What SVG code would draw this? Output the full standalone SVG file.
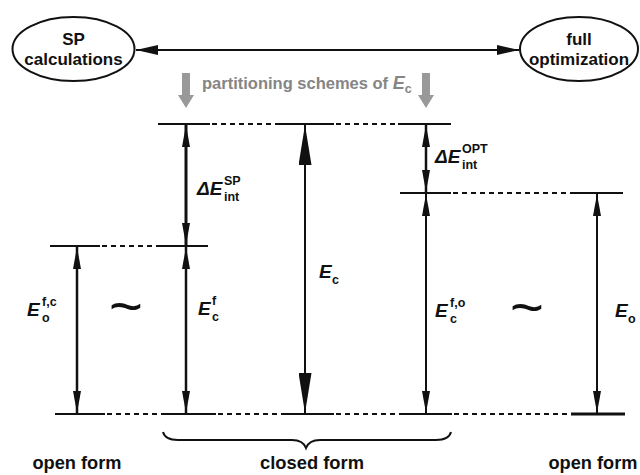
<svg xmlns="http://www.w3.org/2000/svg" width="640" height="475" viewBox="0 0 640 475">
<style>
.t{font-family:"Liberation Sans",Arial,sans-serif;font-weight:bold;fill:#111}
.lab{font-size:17px;text-anchor:middle}
.bot{font-size:18.5px;text-anchor:middle}
.E{font-size:19px;font-style:italic}
.s{font-size:12.5px}
.lv{stroke:#111;stroke-width:2;fill:none}
.dl{stroke:#111;stroke-width:2;stroke-dasharray:5 4;fill:none}
.ar{stroke:#111;stroke-width:2.5;fill:none}
.g{fill:#999}
</style>
<defs>
<marker id="ah" viewBox="0 0 22 8" refX="22" refY="4" markerWidth="22" markerHeight="8" markerUnits="userSpaceOnUse" orient="auto-start-reverse"><path d="M0,0 L22,4 L0,8 z" fill="#111"/></marker>
<marker id="ahb" viewBox="0 0 40 13" refX="40" refY="6.5" markerWidth="40" markerHeight="13" markerUnits="userSpaceOnUse" orient="auto-start-reverse"><path d="M0,0 L40,6.5 L0,13 z" fill="#111"/></marker>
<marker id="aht" viewBox="0 0 22 10" refX="22" refY="5" markerWidth="22" markerHeight="10" markerUnits="userSpaceOnUse" orient="auto-start-reverse"><path d="M0,0 L22,5 L0,10 z" fill="#111"/></marker>
</defs>
<g id="sp">
<ellipse cx="73.5" cy="49" rx="61" ry="32" fill="#fff" stroke="#111" stroke-width="2"/>
<text class="t lab" x="73.5" y="45">SP</text>
<text class="t lab" x="73.5" y="65">calculations</text>
</g>
<g id="full">
<ellipse cx="579" cy="49" rx="59" ry="32" fill="#fff" stroke="#111" stroke-width="2"/>
<text class="t lab" x="579" y="45">full</text>
<text class="t lab" x="579" y="65">optimization</text>
</g>
<g id="partition">
<polygon class="g" points="182,73 190,73 190,95 194,95 186,108 178,95 182,95"/>
<polygon class="g" points="422,73 430,73 430,95 434,95 426,108 418,95 422,95"/>
<text class="t" x="202" y="89" style="font-size:16.5px;fill:#858585">partitioning schemes of <tspan font-style="italic" font-size="18px">E</tspan><tspan font-size="12.5px" dy="4">c</tspan></text>
</g>
<g id="levels">
<line class="lv" x1="158" y1="124" x2="210" y2="124"/>
<line class="dl" x1="212" y1="124" x2="278" y2="124"/>
<line class="lv" x1="278" y1="124" x2="334" y2="124"/>
<line class="dl" x1="336" y1="124" x2="398" y2="124"/>
<line class="lv" x1="398" y1="124" x2="451" y2="124"/>
<line class="lv" x1="50" y1="246" x2="100" y2="246"/>
<line class="dl" x1="102" y1="246" x2="158" y2="246"/>
<line class="lv" x1="158" y1="246" x2="208" y2="246"/>
<line class="lv" x1="400" y1="193" x2="451" y2="193"/>
<line class="dl" x1="453" y1="193" x2="570" y2="193"/>
<line class="lv" x1="570" y1="193" x2="623" y2="193"/>
<line class="lv" x1="55" y1="414" x2="105" y2="414"/>
<line class="dl" x1="107" y1="414" x2="162" y2="414"/>
<line class="lv" x1="162" y1="414" x2="216" y2="414"/>
<line class="dl" x1="218" y1="414" x2="282" y2="414"/>
<line class="lv" x1="282" y1="414" x2="334" y2="414"/>
<line class="dl" x1="336" y1="414" x2="401" y2="414"/>
<line class="lv" x1="401" y1="414" x2="452" y2="414"/>
<line class="dl" x1="454" y1="414" x2="571" y2="414"/>
<line class="lv" x1="571" y1="414" x2="625" y2="414" style="stroke-width:3"/>
</g>
<g id="connectors">
<line class="ar" x1="136" y1="50" x2="519" y2="50" style="stroke-width:2" marker-start="url(#aht)" marker-end="url(#aht)"/>
<line class="ar" x1="77" y1="247" x2="77" y2="413" marker-start="url(#ah)" marker-end="url(#ah)"/>
<line class="ar" x1="186" y1="125" x2="186" y2="245" style="stroke-width:3" marker-start="url(#ah)" marker-end="url(#ah)"/>
<line class="ar" x1="186" y1="247" x2="186" y2="413" marker-start="url(#ah)" marker-end="url(#ah)"/>
<line class="ar" x1="305" y1="125" x2="305" y2="413" style="stroke-width:2" marker-start="url(#ahb)" marker-end="url(#ahb)"/>
<line class="ar" x1="426" y1="125" x2="426" y2="192" marker-start="url(#ah)" marker-end="url(#ah)"/>
<line class="ar" x1="426" y1="194" x2="426" y2="413" style="stroke-width:2" marker-start="url(#ah)" marker-end="url(#ah)"/>
<line class="ar" x1="597" y1="194" x2="597" y2="413" style="stroke-width:2" marker-start="url(#ah)" marker-end="url(#ah)"/>
<path d="M163,432 Q165,440 178,440 L292,440 Q303,440 306,448 Q309,440 320,440 L436,440 Q449,440 451,432" fill="none" stroke="#111" stroke-width="2"/>
</g>
<g id="labels">
<text class="t E" x="27" y="316">E</text>
<text class="t s" x="42" y="306">f,c</text>
<text class="t s" x="42" y="322">o</text>
<text class="t" x="126" y="326" text-anchor="middle" style="font-size:58px;font-weight:normal">~</text>
<text class="t E" x="197" y="195">ΔE</text>
<text class="t s" x="224" y="185">SP</text>
<text class="t s" x="224" y="201">int</text>
<text class="t E" x="198" y="315">E</text>
<text class="t s" x="212" y="305">f</text>
<text class="t s" x="212" y="321">c</text>
<text class="t E" x="319" y="278">E</text>
<text class="t s" x="332" y="284">c</text>
<text class="t E" x="435" y="163">ΔE</text>
<text class="t s" x="462" y="153">OPT</text>
<text class="t s" x="462" y="169">int</text>
<text class="t E" x="435" y="317">E</text>
<text class="t s" x="450" y="307">f,o</text>
<text class="t s" x="450" y="323">c</text>
<text class="t" x="527" y="327" text-anchor="middle" style="font-size:58px;font-weight:normal">~</text>
<text class="t E" x="615" y="317">E</text>
<text class="t s" x="628" y="323">o</text>
<text class="t bot" x="77" y="469" textLength="89" lengthAdjust="spacingAndGlyphs">open form</text>
<text class="t bot" x="312" y="469" textLength="104" lengthAdjust="spacingAndGlyphs">closed form</text>
<text class="t bot" x="593" y="469" textLength="89" lengthAdjust="spacingAndGlyphs">open form</text>
</g>
</svg>
